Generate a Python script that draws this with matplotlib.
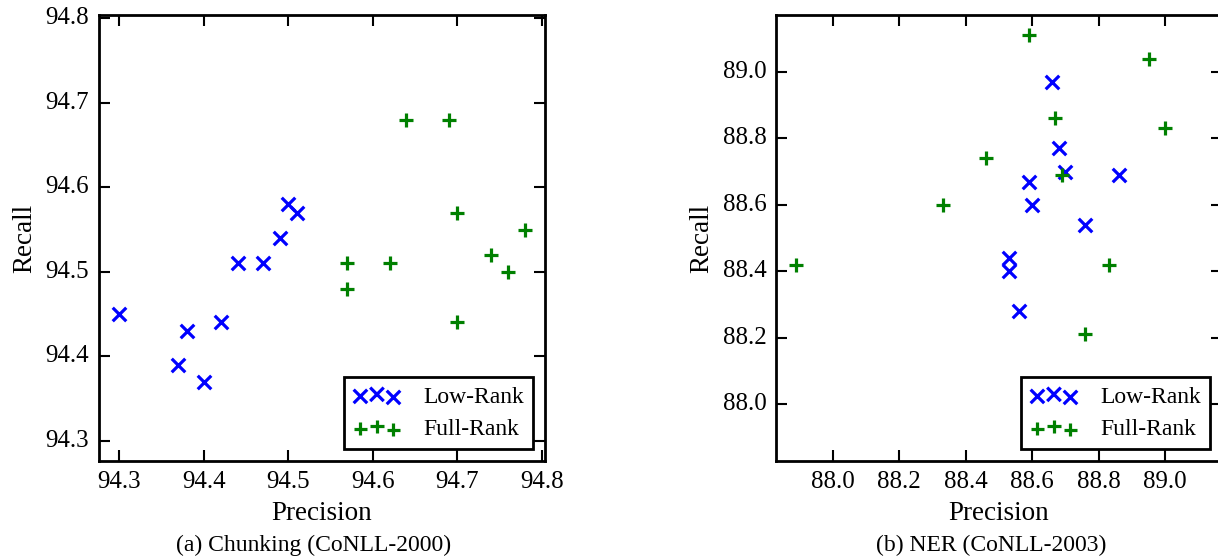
import matplotlib
matplotlib.use('Agg')
import matplotlib.pyplot as plt

# Chunking (CoNLL-2000)
chunk_low_p = [94.30, 94.37, 94.38, 94.40, 94.42, 94.44, 94.47, 94.49, 94.50, 94.51]
chunk_low_r = [94.45, 94.39, 94.43, 94.37, 94.44, 94.51, 94.51, 94.54, 94.58, 94.57]
chunk_full_p = [94.57, 94.57, 94.62, 94.64, 94.69, 94.70, 94.70, 94.74, 94.76, 94.78]
chunk_full_r = [94.51, 94.48, 94.51, 94.68, 94.68, 94.57, 94.44, 94.52, 94.50, 94.55]
chunk_ticks = [94.3, 94.4, 94.5, 94.6, 94.7, 94.8]

# NER (CoNLL-2003)
ner_low_p = [88.66, 88.68, 88.70, 88.59, 88.60, 88.86, 88.76, 88.53, 88.53, 88.56]
ner_low_r = [88.97, 88.77, 88.70, 88.67, 88.60, 88.69, 88.54, 88.44, 88.40, 88.28]
ner_full_p = [88.59, 88.95, 88.67, 89.00, 88.46, 88.69, 88.33, 87.89, 88.83, 88.76]
ner_full_r = [89.11, 89.04, 88.86, 88.83, 88.74, 88.69, 88.60, 88.42, 88.42, 88.21]
ner_ticks = [88.0, 88.2, 88.4, 88.6, 88.8, 89.0]

plt.style.use('classic')
plt.rcParams['figure.facecolor'] = 'white'
plt.rcParams['font.family'] = ['Liberation Serif', 'DejaVu Serif']
plt.rcParams['axes.linewidth'] = 2

fig = plt.figure(figsize=(12.18, 5.58), dpi=100)
ax1 = fig.add_axes([99 / 1218, 97 / 558, 446 / 1218, 446 / 558])
ax2 = fig.add_axes([776 / 1218, 97 / 558, 446 / 1218, 446 / 558])

panels = [
    (ax1, chunk_low_p, chunk_low_r, chunk_full_p, chunk_full_r, chunk_ticks),
    (ax2, ner_low_p, ner_low_r, ner_full_p, ner_full_r, ner_ticks),
]

for ax, lp, lr, fp, fr, ticks in panels:
    ax.scatter(lp, lr, marker='x', s=95, c='blue', edgecolors='blue', linewidths=2.3, label='Low-Rank')
    ax.scatter(fp, fr, marker='+', s=95, c='green', edgecolors='green', linewidths=2.3, label='Full-Rank')
    # same limits on both axes, 5% padding around all values
    vals = lp + lr + fp + fr
    lo, hi = min(vals), max(vals)
    pad = (hi - lo) * 0.05
    ax.set_xlim(lo - pad, hi + pad)
    ax.set_ylim(lo - pad, hi + pad)
    ax.set_xticks(ticks)
    ax.set_yticks(ticks)
    ax.set_xticklabels([f'{t:.1f}' for t in ticks])
    ax.set_yticklabels([f'{t:.1f}' for t in ticks])
    ax.tick_params(direction='in', length=8, width=1.5, labelsize=18, pad=7,
                   top=True, right=True)
    ax.set_xlabel('Precision', fontsize=19.5, labelpad=6)
    ax.set_ylabel('Recall', fontsize=19.5, labelpad=6)
    leg = ax.legend(loc='lower right', scatterpoints=3, fontsize=17, frameon=True,
                    fancybox=False, borderaxespad=0.5, borderpad=0.4,
                    handlelength=2.0, handletextpad=0.95, labelspacing=0.45)
    leg.get_frame().set_linewidth(2)
    leg.get_frame().set_edgecolor('black')

fig.text(314 / 1218, 1 - 545 / 558, '(a) Chunking (CoNLL-2000)', ha='center', va='center', fontsize=17)
fig.text(991 / 1218, 1 - 545 / 558, '(b) NER (CoNLL-2003)', ha='center', va='center', fontsize=17)

fig.savefig('out.png', dpi=100)
